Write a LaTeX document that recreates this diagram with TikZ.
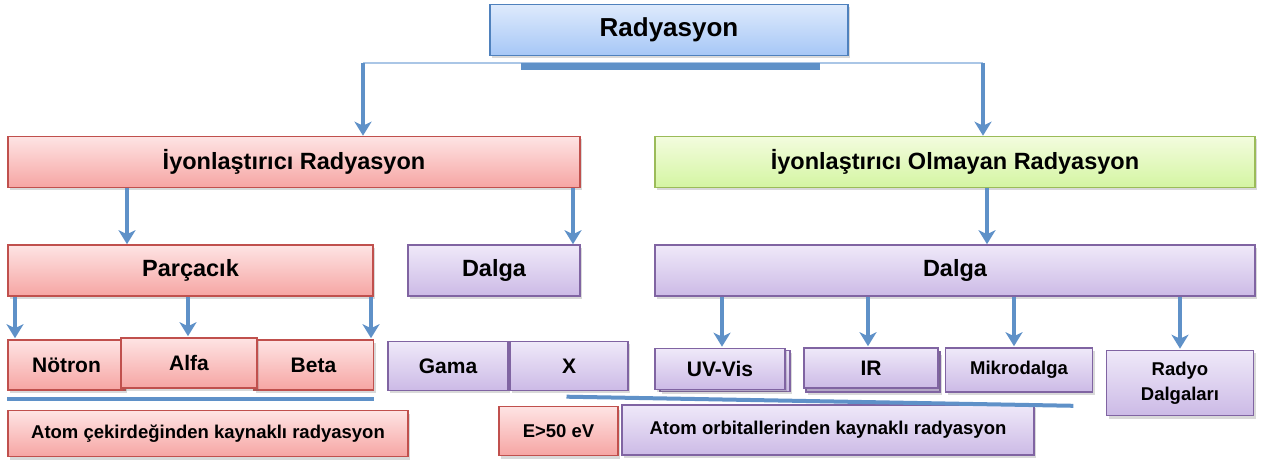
\documentclass[tikz,border=0pt]{standalone}
\usepackage{fontspec}
\setmainfont{Liberation Sans}
\usetikzlibrary{arrows.meta,shadows,calc}
\definecolor{arrc}{RGB}{95,145,200}
\definecolor{arrl}{RGB}{170,198,230}
\definecolor{blueB}{RGB}{79,129,189}
\definecolor{blueT}{RGB}{222,234,252}
\definecolor{blueM}{RGB}{166,199,246}
\definecolor{redB}{RGB}{192,80,77}
\definecolor{redT}{RGB}{254,228,228}
\definecolor{redM}{RGB}{246,165,163}
\definecolor{grnB}{RGB}{155,187,89}
\definecolor{grnT}{RGB}{243,252,222}
\definecolor{grnM}{RGB}{212,245,162}
\definecolor{purB}{RGB}{128,100,162}
\definecolor{purT}{RGB}{239,233,249}
\definecolor{purM}{RGB}{204,186,230}
\begin{document}
\begin{tikzpicture}[x=1pt,y=-1pt,
  box/.style={draw, line width=1.6pt, inner sep=0pt, align=center,
    drop shadow={shadow xshift=2pt, shadow yshift=-3pt, opacity=0.25, fill=black!60}},
  bluebox/.style={box, draw=blueB, top color=blueT, bottom color=blueM},
  redbox/.style={box, draw=redB, top color=redT, bottom color=redM},
  grnbox/.style={box, draw=grnB, top color=grnT, bottom color=grnM},
  purbox/.style={box, draw=purB, top color=purT, bottom color=purM},
  fa/.style={font={\bfseries\fontsize{26}{30}\selectfont}},
  fb/.style={font={\bfseries\fontsize{23.5}{28}\selectfont}},
  fc/.style={font={\bfseries\fontsize{21}{25}\selectfont}},
  fd/.style={font={\bfseries\fontsize{18.5}{23}\selectfont}},
  arr/.style={draw=arrc, line width=4.5pt, -{Stealth[length=14pt,width=17pt,inset=4pt]}},
  hline/.style={draw=arrc, line width=4pt}
]
\useasboundingbox (0,0) rectangle (1267,462);

% level 0
\node[bluebox, fa, minimum width=358, minimum height=51] (rad) at (669,30) {Radyasyon};
% level 1
\node[redbox, fb, minimum width=572, minimum height=51] (ir) at (294,162) {İyonlaştırıcı Radyasyon};
\node[grnbox, fb, minimum width=600, minimum height=51] (ior) at (955,162) {İyonlaştırıcı Olmayan Radyasyon};
% level 2
\node[redbox, fb, minimum width=365, minimum height=51] (parc) at (190.5,270.5) {Parçacık};
\node[purbox, fb, minimum width=172, minimum height=51] (dalL) at (494,270.5) {Dalga};
\node[purbox, fb, minimum width=600, minimum height=51] (dalR) at (955,270.5) {Dalga};
% level 3 left
\node[redbox, fc, minimum width=117, minimum height=50] (not) at (66.5,365) {Nötron};
\node[redbox, fc, minimum width=120, minimum height=50] (bet) at (313.5,365) {Beta};
\node[redbox, fc, minimum width=136, minimum height=50] (alf) at (189,363) {Alfa};
\node[purbox, fc, minimum width=120, minimum height=49] (gam) at (448,366) {Gama};
\node[purbox, fc, minimum width=118, minimum height=49] (xr) at (569,366) {X};
% level 3 right
\node[purbox, minimum width=130, minimum height=41] (uvb) at (725,371) {};
\node[purbox, fc, minimum width=130, minimum height=41] (uv) at (720,369) {UV-Vis};
\node[purbox, minimum width=134, minimum height=40] (irb) at (873,372) {};
\node[purbox, fc, minimum width=134, minimum height=40] (irr) at (871,368) {IR};
\node[purbox, fd, minimum width=147, minimum height=44] (mik) at (1019,370) {Mikrodalga};
\node[purbox, fd, minimum width=147, minimum height=65] (rdy) at (1180,383) {Radyo\\[2pt]Dalgaları};
% bottom notes
\node[redbox, fd, minimum width=400, minimum height=46] (atc) at (208,433.5) {Atom çekirdeğinden kaynaklı radyasyon};
\node[purbox, fd, minimum width=412, minimum height=50] (orb) at (828,430) {Atom orbitallerinden kaynaklı radyasyon};
\node[redbox, fd, minimum width=119, minimum height=49] (e50) at (558.5,431) {E>50 eV};

% top connector
\coordinate (tl) at (363,63);
\coordinate (tr) at (983,63);
\draw[arrl, line width=2pt] (tl) -- (tr);
\draw[hline, line width=7pt] ($(rad.south west)+(32,10)$) -- ($(rad.south east)+(-29,10)$);
\draw[arr] (tl) -- (ir.north -| tl);
\draw[arr] (tr) -- (ior.north -| tr);

% level 1 -> 2
\coordinate (c1) at (127,0);
\coordinate (c2) at (573,0);
\coordinate (c3) at (987,0);
\draw[arr] (ir.south -| c1) -- (parc.north -| c1);
\draw[arr] (ir.south -| c2) -- (dalL.north -| c2);
\draw[arr] (ior.south -| c3) -- (dalR.north -| c3);

% Parcacik -> particles
\coordinate (p1) at (15,0);
\coordinate (p2) at (188,0);
\coordinate (p3) at (371,0);
\draw[arr] (parc.south -| p1) -- ($(not.north -| p1)+(0,-1)$);
\draw[arr] (parc.south -| p2) -- ($(alf.north -| p2)+(0,-1)$);
\draw[arr] (parc.south -| p3) -- ($(bet.north -| p3)+(0,-1)$);

% Dalga -> waves
\coordinate (w1) at (722,0);
\coordinate (w2) at (868,0);
\coordinate (w3) at (1014,0);
\coordinate (w4) at (1180,0);
\draw[arr] (dalR.south -| w1) -- ($(uv.north -| w1)+(0,-1)$);
\draw[arr] (dalR.south -| w2) -- ($(irr.north -| w2)+(0,-1)$);
\draw[arr] (dalR.south -| w3) -- ($(mik.north -| w3)+(0,-1)$);
\draw[arr] (dalR.south -| w4) -- ($(rdy.north -| w4)+(0,-1)$);

% grouping lines
\draw[hline] ($(not.south west)+(0,8)$) -- ($(bet.south east)+(0,8)$);
\draw[hline] ($(e50.north)+(8,-9)$) -- ($(mik.south east)+(-20,13)$);
\end{tikzpicture}
\end{document}
